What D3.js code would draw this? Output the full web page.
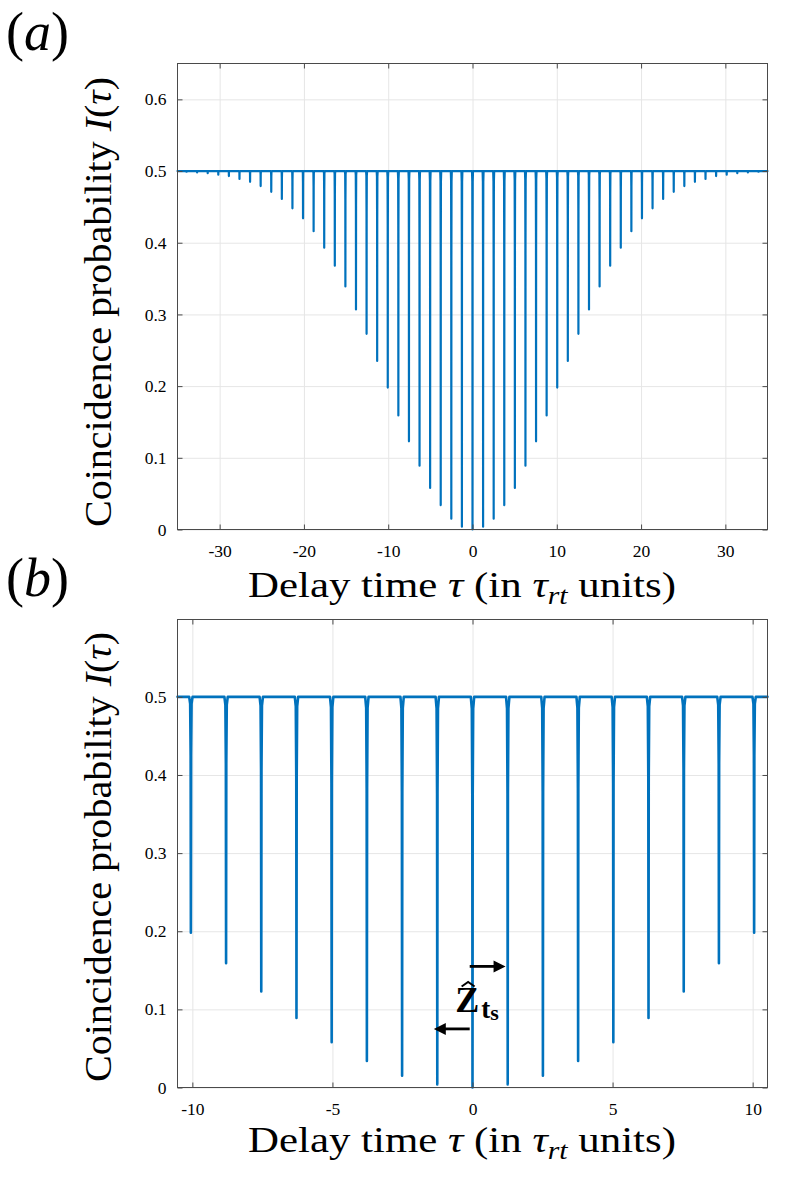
<!DOCTYPE html>
<html><head><meta charset="utf-8">
<script src="https://cdn.jsdelivr.net/npm/d3@7/dist/d3.min.js"></script>
<style>
body{margin:0;background:#fff}
svg text{font-family:"Liberation Serif","Times New Roman",Times,serif !important;fill:#000}
</style>
</head><body>
<svg id="chart" width="787" height="1177"></svg>
<script>
// ---- data ----
// dip centres (tau, in tau_rt units) for n = 0..27; dips are mirrored at -tau
const dipTau = [0, 1.257, 2.513, 3.770, 5.027, 6.283, 7.540, 8.796, 10.053, 11.310,
  12.566, 13.823, 15.080, 16.336, 17.593, 18.850, 20.106, 21.363, 22.619, 23.876,
  25.133, 26.389, 27.646, 28.903, 30.159, 31.416, 32.673, 33.929];
// minimum of I(tau) at each dip
const dipMin = [0.000, 0.004, 0.015, 0.034, 0.058, 0.089, 0.123, 0.159, 0.198, 0.235,
  0.273, 0.307, 0.339, 0.368, 0.393, 0.416, 0.434, 0.448, 0.461, 0.471,
  0.479, 0.485, 0.489, 0.493, 0.495, 0.497, 0.498, 0.499];
const baseLevel = 0.5;
// shape of one dip: offset from centre (tau units) and fraction of the dip depth
const dipShapeOffset = [-0.06, -0.025, -0.008, 0, 0.008, 0.025, 0.06];
const dipShapeFrac = [0, 0.03, 0.25, 1, 0.25, 0.03, 0];

const topXTicks = [-30, -20, -10, 0, 10, 20, 30];
const topYTicks = [0, 0.1, 0.2, 0.3, 0.4, 0.5, 0.6];
const topXDomain = [-35, 35];
const topYDomain = [0, 0.65];
const botXTicks = [-10, -5, 0, 5, 10];
const botYTicks = [0, 0.1, 0.2, 0.3, 0.4, 0.5];
const botXDomain = [-10.53, 10.53];
const botYDomain = [0, 0.599];

const serif = '"Liberation Serif","Times New Roman",Times,serif';
const svg = d3.select("#chart").style("font-family", serif);
const blue = "#0072BD";
const axisCol = "#4a4a4a";
const gridCol = "#e6e6e6";

function buildSeries(xmin, xmax) {
  const dips = [];
  for (let i = dipTau.length - 1; i >= 1; i--) dips.push([-dipTau[i], dipMin[i]]);
  dips.push([dipTau[0], dipMin[0]]);
  for (let i = 1; i < dipTau.length; i++) dips.push([dipTau[i], dipMin[i]]);
  const pts = [[xmin, baseLevel]];
  dips.forEach(([t, m]) => {
    if (t - 0.06 < xmin || t + 0.06 > xmax) return;
    dipShapeOffset.forEach((o, k) => pts.push([t + o, baseLevel - (baseLevel - m) * dipShapeFrac[k]]));
  });
  pts.push([xmax, baseLevel]);
  return pts;
}

function panel(cfg) {
  const x = d3.scaleLinear().domain(cfg.xd).range([cfg.x0, cfg.x1]);
  const y = d3.scaleLinear().domain(cfg.yd).range([cfg.y1, cfg.y0]);
  const W = cfg.x1 - cfg.x0, H = cfg.y1 - cfg.y0;
  const g = svg.append("g");

  // grid
  const gx = g.append("g").attr("transform", `translate(0,${cfg.y1})`)
    .call(d3.axisBottom(x).tickValues(cfg.xt).tickSize(-H).tickFormat(""));
  const gy = g.append("g").attr("transform", `translate(${cfg.x0},0)`)
    .call(d3.axisLeft(y).tickValues(cfg.yt).tickSize(-W).tickFormat(""));
  [gx, gy].forEach(a => { a.select(".domain").remove(); a.selectAll("line").attr("stroke", gridCol).attr("stroke-width", 1); });

  // data
  const line = d3.line().x(d => x(d[0])).y(d => y(d[1]));
  g.append("path").datum(buildSeries(cfg.xd[0], cfg.xd[1]))
    .attr("d", line).attr("fill", "none").attr("stroke", blue)
    .attr("stroke-width", cfg.lw).attr("stroke-linejoin", "round").attr("stroke-linecap", "round");

  // axes with inward ticks
  const tl = 5;
  const ab = g.append("g").attr("transform", `translate(0,${cfg.y1})`)
    .call(d3.axisBottom(x).tickValues(cfg.xt).tickSizeInner(-tl).tickSizeOuter(0).tickPadding(15).tickFormat(d => String(d)));
  const at = g.append("g").attr("transform", `translate(0,${cfg.y0})`)
    .call(d3.axisTop(x).tickValues(cfg.xt).tickSizeInner(-tl).tickSizeOuter(0).tickFormat(""));
  const al = g.append("g").attr("transform", `translate(${cfg.x0},0)`)
    .call(d3.axisLeft(y).tickValues(cfg.yt).tickSizeInner(-tl).tickSizeOuter(0).tickPadding(11).tickFormat(d => d === 0 ? "0" : d3.format(".1f")(d)));
  const ar = g.append("g").attr("transform", `translate(${cfg.x1},0)`)
    .call(d3.axisRight(y).tickValues(cfg.yt).tickSizeInner(-tl).tickSizeOuter(0).tickFormat(""));
  [ab, at, al, ar].forEach(a => {
    a.attr("font-family", null);
    a.select(".domain").remove();
    a.selectAll("line").attr("stroke", axisCol).attr("stroke-width", 1);
    a.selectAll("text").style("font-family", serif).attr("font-size", 17.5).attr("fill", "#262626");
  });
  g.append("rect").attr("x", cfg.x0).attr("y", cfg.y0).attr("width", W).attr("height", H)
    .attr("fill", "none").attr("stroke", axisCol).attr("stroke-width", 1);

  // x label
  const xl = g.append("text").attr("x", cfg.xlx).attr("y", cfg.xly).attr("font-size", 36)
    .attr("text-anchor", "middle").attr("textLength", 428).attr("lengthAdjust", "spacingAndGlyphs");
  xl.append("tspan").text("Delay time ");
  xl.append("tspan").attr("font-style", "italic").text("τ");
  xl.append("tspan").text(" (in ");
  xl.append("tspan").attr("font-style", "italic").text("τ");
  xl.append("tspan").attr("font-style", "italic").attr("font-size", 25).attr("dy", 7).text("rt");
  xl.append("tspan").attr("dy", -7).text(" units)");

  // y label
  const yl = g.append("text").attr("transform", `translate(${cfg.ylx},${cfg.yly}) rotate(-90)`)
    .attr("font-size", 37).attr("text-anchor", "middle").attr("textLength", 450).attr("lengthAdjust", "spacingAndGlyphs");
  yl.append("tspan").text("Coincidence probability ");
  yl.append("tspan").attr("font-style", "italic").text("I");
  yl.append("tspan").text("(");
  yl.append("tspan").attr("font-style", "italic").text("τ");
  yl.append("tspan").text(")");

  // panel label
  const pl = svg.append("text").attr("x", 6).attr("y", cfg.ply).attr("font-size", 54);
  pl.append("tspan").text("(");
  pl.append("tspan").attr("font-style", "italic").text(cfg.pl);
  pl.append("tspan").text(")");
  return { x, y };
}

panel({ xd: topXDomain, yd: topYDomain, xt: topXTicks, yt: topYTicks,
  x0: 177.5, x1: 767.5, y0: 63.5, y1: 529.5, lw: 2.2,
  xlx: 462, xly: 597, ylx: 111, yly: 302, pl: "a", ply: 50 });

const b = panel({ xd: botXDomain, yd: botYDomain, xt: botXTicks, yt: botYTicks,
  x0: 177.5, x1: 767.5, y0: 619.5, y1: 1087.5, lw: 2.6,
  xlx: 462, xly: 1152, ylx: 111, yly: 857, pl: "b", ply: 596 });

// annotation Z_ts with arrows
const annY1 = 0.155, annY2 = 0.075;
const arrowR = [-0.1, 1.18], arrowL = [-0.1, -1.38];
function arrow(t0, t1, v) {
  const X0 = b.x(t0), X1 = b.x(t1), Y = b.y(v);
  const dir = Math.sign(X1 - X0), hl = 12, hw = 6;
  svg.append("line").attr("x1", X0).attr("y1", Y).attr("x2", X1 - dir * hl + dir).attr("y2", Y)
    .attr("stroke", "#000").attr("stroke-width", 2.8);
  svg.append("path").attr("d", `M${X1},${Y}L${X1 - dir * hl},${Y - hw}L${X1 - dir * hl},${Y + hw}Z`).attr("fill", "#000");
}
arrow(arrowR[0], arrowR[1], annY1);
arrow(arrowL[0], arrowL[1], annY2);
const zx = b.x(-0.62), zy = b.y(0.096);
svg.append("text").attr("x", zx).attr("y", zy).attr("font-size", 36).attr("font-weight", "bold").text("Z");
svg.append("path").attr("d", `M${zx + 6.5},${zy - 26}L${zx + 13},${zy - 30.5}L${zx + 19.5},${zy - 26}`)
  .attr("fill", "none").attr("stroke", "#000").attr("stroke-width", 2);
const sub = svg.append("text").attr("x", zx + 26).attr("y", zy + 6).attr("font-size", 27).attr("font-weight", "bold");
sub.append("tspan").text("t");
sub.append("tspan").attr("font-size", 22).attr("dy", 2).text("s");
</script>
</body></html>
